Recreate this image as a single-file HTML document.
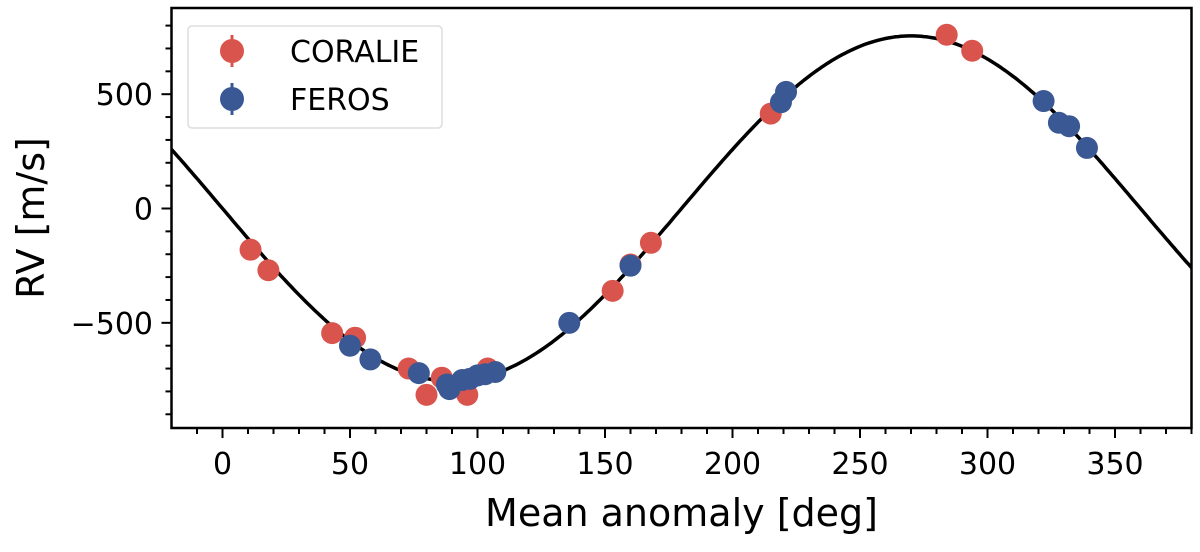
<!DOCTYPE html>
<html><head><meta charset="utf-8"><style>
body{margin:0;background:#fff;width:1200px;height:548px;overflow:hidden;font-family:"DejaVu Sans","Liberation Sans",sans-serif}
</style></head><body>
<svg id="chart" width="1200" height="548" xmlns="http://www.w3.org/2000/svg" font-family="DejaVu Sans, Liberation Sans, sans-serif"></svg>
<script>
const xTicks=[0,50,100,150,200,250,300,350];
const yTicks=[-500,0,500];
const coralieM=[11,18,43,52,73,80,86,96,104,153,160,168,215,284,294];
const coralieRV=[-180,-270,-545,-565,-700,-815,-740,-815,-700,-360,-245,-150,415,760,690];
const ferosM=[50,58,77,88,89,94,97,100,103,107,136,160,219,221,322,328,332,339];
const ferosRV=[-600,-660,-720,-770,-790,-750,-745,-730,-725,-715,-500,-250,465,510,470,375,360,265];
const K=755;
const X0=171.5,X1=1191.5,Y0=8,Y1=428,xmin=-20,xmax=380,ymin=-960,ymax=877;
const sx=v=>X0+(v-xmin)/(xmax-xmin)*(X1-X0);
const sy=v=>Y1-(v-ymin)/(ymax-ymin)*(Y1-Y0);
const svg=document.getElementById('chart');const NS='http://www.w3.org/2000/svg';
function mk(t,a,p){const e=document.createElementNS(NS,t);for(const k in a)e.setAttribute(k,a[k]);(p||svg).appendChild(e);return e;}
const clip=mk('clipPath',{id:'c'});mk('rect',{x:X0,y:Y0,width:X1-X0,height:Y1-Y0},clip);
let d='';for(let m=xmin;m<=xmax;m+=1){d+=(m==xmin?'M':'L')+sx(m).toFixed(1)+','+sy(-K*Math.sin(m*Math.PI/180)).toFixed(1);}
const curve=mk('path',{d:d,fill:'none',stroke:'#000','stroke-width':3.5,'clip-path':'url(#c)'});


function pts(M,R,col,name){const g=mk('g',{'clip-path':'url(#c)'});


M.forEach((m,i)=>{const c=mk('circle',{cx:sx(m),cy:sy(R[i]),r:11,fill:col},g);

});}
pts(coralieM,coralieRV,'#d9544d','coralie');
pts(ferosM,ferosRV,'#3a5894','feros');
mk('rect',{x:X0,y:Y0,width:X1-X0,height:Y1-Y0,fill:'none',stroke:'#000','stroke-width':2.5});
for(let m=-10;m<=380;m+=10){const big=xTicks.includes(m);mk('line',{x1:sx(m),x2:sx(m),y1:Y1,y2:Y1+(big?10:6),stroke:'#000','stroke-width':2});}
xTicks.forEach(t=>{const e=mk('text',{x:sx(t),y:474,'text-anchor':'middle','font-size':30});e.textContent=t;

});
for(let v=-900;v<=800;v+=100){const big=yTicks.includes(v);mk('line',{x1:X0,x2:X0-(big?10:6),y1:sy(v),y2:sy(v),stroke:'#000','stroke-width':2});}
yTicks.forEach(t=>{const e=mk('text',{x:153,y:sy(t)+11,'text-anchor':'end','font-size':30});e.textContent=t==-500?'\u2212500':t;

});
const xt=mk('text',{x:sx(180),y:526,'text-anchor':'middle','font-size':38});xt.textContent='Mean anomaly [deg]';


const yt=mk('text',{x:0,y:0,'text-anchor':'middle','font-size':38,transform:'translate(44,'+((Y0+Y1)/2)+') rotate(-90)'});yt.textContent='RV [m/s]';


const lg=mk('g',{});


mk('rect',{x:188,y:26,width:254,height:102,rx:4,fill:'#fff',stroke:'#ddd','stroke-width':1.5},lg);
[['CORALIE','#d9544d',51],['FEROS','#3a5894',99]].forEach(([n,c,y])=>{
mk('line',{x1:232,x2:232,y1:y-16,y2:y+16,stroke:c,'stroke-width':3},lg);
mk('circle',{cx:232,cy:y,r:12,fill:c},lg);
const t=mk('text',{x:290,y:y+11,'font-size':30},lg);t.textContent=n;

});
</script>
</body></html>
